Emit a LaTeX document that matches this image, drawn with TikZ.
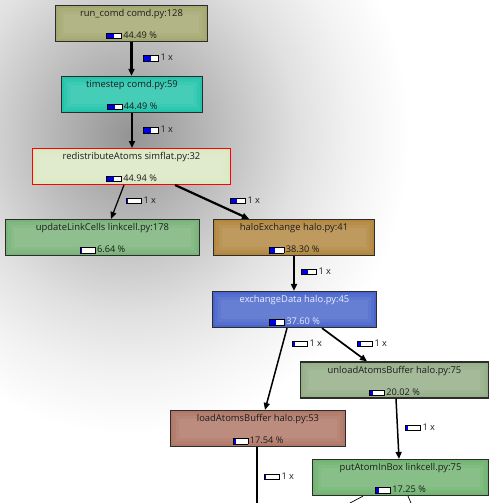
\documentclass[tikz,border=0pt]{standalone}
\usepackage{fontspec}
\setmainfont{Open Sans}
\usetikzlibrary{arrows.meta,calc}

\definecolor{g0}{gray}{0.58}
\definecolor{g1}{gray}{0.68}
\definecolor{g2}{gray}{0.78}
\definecolor{g3}{gray}{0.88}
\definecolor{g4}{gray}{0.95}
\pgfdeclareradialshading{glow}{\pgfpoint{0bp}{0bp}}{color(0bp)=(g0); color(5bp)=(g1); color(10bp)=(g2); color(15bp)=(g3); color(20bp)=(g4); color(25bp)=(white); color(50bp)=(white)}

\definecolor{cRun}{HTML}{A4A870}
\definecolor{cTs}{HTML}{22C4AC}
\definecolor{cRedis}{HTML}{DCE8C4}
\definecolor{cUpd}{HTML}{7AB37A}
\definecolor{cHalo}{HTML}{B2873F}
\definecolor{cExch}{HTML}{4A66CC}
\definecolor{cUnl}{HTML}{94AE86}
\definecolor{cLoad}{HTML}{B07866}
\definecolor{cPut}{HTML}{72B472}
\definecolor{bord}{HTML}{2C2C2C}
\definecolor{txt}{HTML}{1C1C1C}
\definecolor{ltxt}{HTML}{E8EEFF}
\definecolor{bblue}{HTML}{0000E6}

\newcommand\pbar[1]{{\setlength{\fboxsep}{0pt}\setlength{\fboxrule}{0.9pt}\fcolorbox{black}{white}{\makebox[14pt][l]{\textcolor{bblue}{\rule{#1pt}{4.6pt}}\rule{0pt}{4.6pt}}}}}

\newcommand\callnode[9]{%
  \node[fnode, #5, minimum width=#4] (#1) at (#2,#3) {};
  \foreach \i in {3,6,9}{%
    \fill[white, opacity=0.06] ([xshift=\i pt, yshift=-\i pt]#1.north west) rectangle ([xshift=-\i pt, yshift=\i pt]#1.south east);}
  \node[ftitle, text=#9] (#1-t) at ([yshift=-11.7pt]#1.north) {#6};
  \node[fpct, text=#9] (#1-p) at ([yshift=3.6pt]#1.south) {\pbar{#8}\kern1.5pt#7\ \%};
}

\tikzset{
  fnode/.style={rectangle, draw=bord, line width=1.2pt, minimum height=36pt, inner sep=0pt},
  ftitle/.style={anchor=base, inner sep=0pt, font=\fontsize{9.4}{11}\selectfont},
  fpct/.style={anchor=base, inner sep=0pt, font=\fontsize{9.2}{11}\selectfont},
  elabel/.style={anchor=west, inner sep=0pt, text=txt, font=\fontsize{9.2}{11}\selectfont},
  edge/.style={draw=black, -{Triangle[length=7pt,width=6pt]}},
  tail/.style={draw=black}
}

\begin{document}
\begin{tikzpicture}[x=1pt,y=-1pt]
\useasboundingbox (0,0) rectangle (500,503);
\begin{scope}
\clip (0,0) rectangle (500,503);
\shade[shading=glow] (130,135) ellipse [x radius=280pt, y radius=300pt];

\callnode{run}{131.5}{23.5}{152}{fill=cRun}{run\_comd comd.py:128}{44.49}{7}{txt}
\callnode{ts}{132}{94.5}{141}{fill=cTs}{timestep comd.py:59}{44.49}{7}{txt}
\callnode{redis}{131.5}{166.5}{198}{fill=cRedis, draw=red, line width=1pt}{redistributeAtoms simflat.py:32}{44.94}{7}{txt}
\callnode{update}{102.5}{237.5}{194}{fill=cUpd}{updateLinkCells linkcell.py:178}{6.64}{1.2}{txt}
\callnode{halo}{294}{237.5}{161}{fill=cHalo}{haloExchange halo.py:41}{38.30}{5.5}{txt}
\callnode{exch}{294.5}{309.5}{164}{fill=cExch}{exchangeData halo.py:45}{37.60}{5.5}{ltxt}
\callnode{unload}{394.5}{380}{188}{fill=cUnl}{unloadAtomsBuffer halo.py:75}{20.02}{3}{txt}
\callnode{load}{258}{428.5}{175}{fill=cLoad}{loadAtomsBuffer halo.py:53}{17.54}{2.5}{txt}
\callnode{put}{400.5}{477.5}{176}{fill=cPut}{putAtomInBox linkcell.py:75}{17.25}{2.5}{txt}

\coordinate (off1) at (257,515);
\coordinate (off2) at (335,511);
\coordinate (off3) at (414,510);

\draw[edge, line width=2.2pt] (run.south) -- (run.south |- ts.north);
\draw[edge, line width=2.2pt] (ts.south) -- (ts.south |- redis.north);
\draw[edge, line width=1.2pt] ([xshift=-7.5pt]redis.south) -- ([xshift=8.5pt]update.north);
\draw[edge, line width=2.2pt] ([xshift=43.5pt]redis.south) -- ([xshift=-45pt]halo.north);
\draw[edge, line width=2pt] (halo.south) -- (halo.south |- exch.north);
\draw[edge, line width=1.5pt] ([xshift=-7.5pt]exch.south) -- ([xshift=7pt]load.north);
\draw[edge, line width=1.7pt] ([xshift=27.5pt]exch.south) -- ([xshift=-27.5pt]unload.north);
\draw[edge, line width=1.5pt] ([xshift=1.5pt]unload.south) -- ([xshift=-1.5pt]put.north);
\draw[tail, line width=1.1pt] ([xshift=-1pt]load.south) -- (off1);
\draw[tail, line width=0.7pt] ([xshift=-37.5pt]put.south) -- (off2);
\draw[tail, line width=0.7pt] ([xshift=7.5pt]put.south) -- (off3);

\node[elabel] (l1) at (143,58) {\pbar{7}\kern1.5pt1 x};
\node[elabel] (l2) at (143,130) {\pbar{7}\kern1.5pt1 x};
\node[elabel] (l3) at (126,200.5) {\pbar{1}\kern1.5pt1 x};
\node[elabel] (l4) at (230,200.5) {\pbar{6}\kern1.5pt1 x};
\node[elabel] (l5) at (301,271.5) {\pbar{5.5}\kern1.5pt1 x};
\node[elabel] (l6) at (292,343.5) {\pbar{1.5}\kern1.5pt1 x};
\node[elabel] (l7) at (357,343.5) {\pbar{2.5}\kern1.5pt1 x};
\node[elabel] (l8) at (405,427.5) {\pbar{1.5}\kern1.5pt1 x};
\node[elabel] (l9) at (264,476.5) {\pbar{1}\kern1.5pt1 x};
\end{scope}
\end{tikzpicture}
\end{document}
